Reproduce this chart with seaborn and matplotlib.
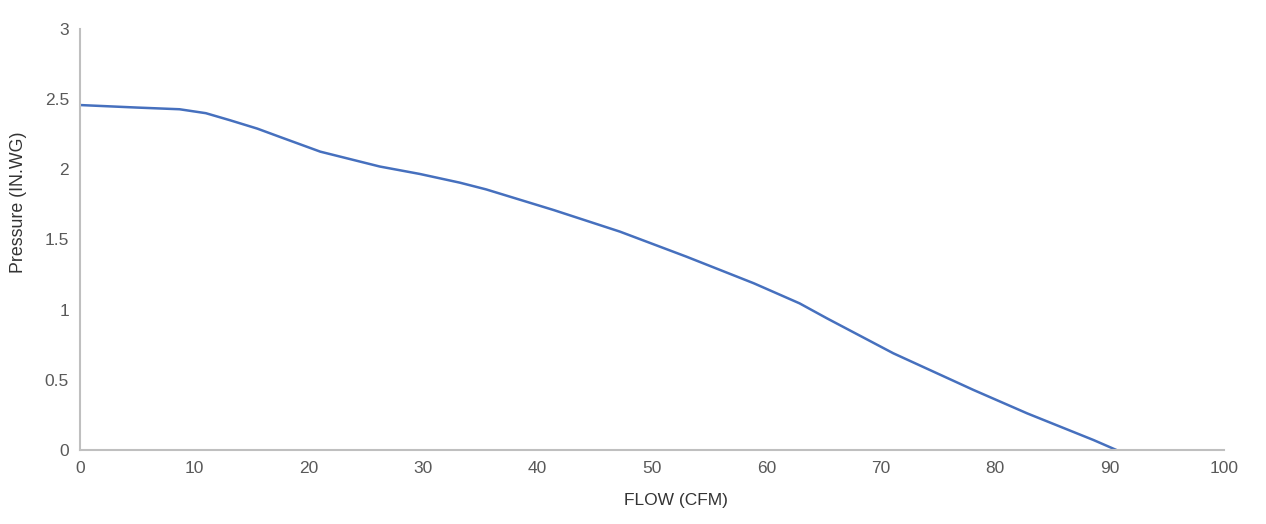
import pandas as pd
import matplotlib
matplotlib.use("Agg")
import matplotlib.pyplot as plt
import seaborn as sns

sns.set_style("white")
plt.rcParams['font.family'] = ['Liberation Sans', 'DejaVu Sans']

# Fan curve
flow = [0, 5.0, 8.7, 11.0, 13.1, 15.5, 17.5, 21.0, 26.2, 29.7, 33.2, 35.5, 41.4,
        47.2, 53.0, 58.9, 62.9, 65.3, 71.1, 78.1, 82.8, 88.6, 90.6]
pressure = [2.458, 2.44, 2.428, 2.40, 2.35, 2.29, 2.23, 2.126, 2.02, 1.967, 1.905,
            1.857, 1.71, 1.556, 1.378, 1.188, 1.045, 0.938, 0.689, 0.428, 0.261,
            0.071, 0.0]
x_ticks = [0, 10, 20, 30, 40, 50, 60, 70, 80, 90, 100]
y_ticks = [0, 0.5, 1, 1.5, 2, 2.5, 3]
y_labels = ["0", "0.5", "1", "1.5", "2", "2.5", "3"]

df = pd.DataFrame({"flow": flow, "pressure": pressure})

fig = plt.figure(figsize=(12.66, 5.24), dpi=100)
ax = fig.add_axes([0.0632, 0.1412, 0.9036, 0.8035])
sns.lineplot(data=df, x="flow", y="pressure", color="#4670BE", linewidth=1.8, ax=ax, sort=True)

ax.set_xlim(0, 100)
ax.set_ylim(0, 3)
ax.set_xticks(x_ticks)
ax.set_yticks(y_ticks)
ax.set_yticklabels(y_labels)
ax.tick_params(axis='both', length=0, labelsize=12.5, colors="#595959", pad=8)
ax.set_xlabel("FLOW (CFM)", fontsize=12.5, color="#333333")
ax.set_ylabel("Pressure (IN.WG)", fontsize=12.8, color="#333333")
ax.xaxis.set_label_coords(0.521, -0.103)
ax.yaxis.set_label_coords(-0.046, 0.589)

for s in ["top", "right"]:
    ax.spines[s].set_visible(False)
for s in ["left", "bottom"]:
    ax.spines[s].set_color("#BFBFBF")
    ax.spines[s].set_linewidth(1.5)
ax.grid(False)

fig.savefig("out.png", dpi=100)
